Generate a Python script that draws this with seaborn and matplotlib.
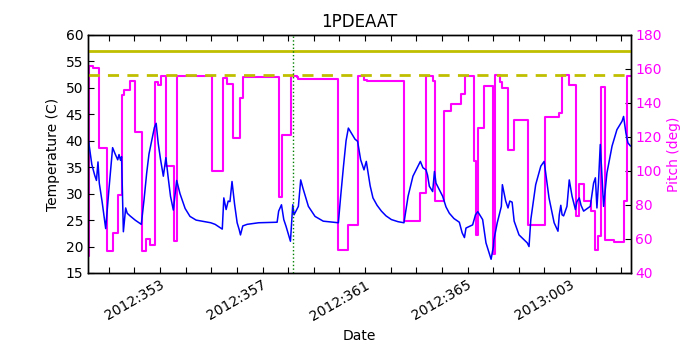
import matplotlib
matplotlib.use("Agg")
import matplotlib.pyplot as plt
from matplotlib.ticker import FixedLocator, MultipleLocator
import numpy as np
import pandas as pd
import seaborn as sns

title = "1PDEAAT"

# Temperature (C) vs day-of-year (2012 numbering; 367 = 2013:001)
temp_day = [351.21, 351.34, 351.45, 351.52, 351.58, 351.63, 351.74, 351.88, 352.01, 352.15,
            352.25, 352.35, 352.40, 352.46, 352.50, 352.57, 352.66, 352.72, 352.83, 353.03,
            353.27, 353.38, 353.48, 353.57, 353.68, 353.78, 353.85, 353.93, 354.02, 354.13,
            354.23, 354.32, 354.41, 354.52, 354.65, 354.78, 354.98, 355.17, 355.41, 355.76,
            355.98, 356.15, 356.34, 356.43, 356.49, 356.58, 356.66, 356.73, 356.81, 356.91,
            357.01, 357.09, 357.14, 357.23, 357.40, 357.85, 358.57, 358.63, 358.74, 358.83,
            358.92, 359.09, 359.18, 359.23, 359.40, 359.49, 359.58, 359.79, 360.05, 360.37,
            360.96, 361.05, 361.16, 361.26, 361.35, 361.46, 361.61, 361.71, 361.83, 361.96,
            362.05, 362.12, 362.20, 362.31, 362.47, 362.64, 362.82, 363.03, 363.29, 363.52,
            363.68, 363.87, 364.07, 364.16, 364.26, 364.38, 364.44, 364.51, 364.64, 364.71,
            364.77, 365.03, 365.16, 365.29, 365.47, 365.68, 365.79, 365.88, 365.94, 366.20,
            366.31, 366.40, 366.59, 366.72, 366.92, 367.01, 367.03, 367.16, 367.32, 367.36,
            367.49, 367.58, 367.65, 367.74, 367.82, 368.01, 368.33, 368.40, 368.47, 368.66,
            368.86, 368.99, 369.18, 369.38, 369.53, 369.58, 369.64, 369.69, 369.75, 369.88,
            369.97, 370.08, 370.21, 370.27, 370.36, 370.43, 370.53, 370.79, 370.92, 370.99,
            371.05, 371.11, 371.18, 371.25, 371.31, 371.44, 371.64, 371.83, 372.03, 372.09,
            372.18, 372.26, 372.36]
temp_c = [40.0, 35.5, 33.5, 32.5, 36.0, 32.0, 28.5, 23.4, 31.0, 38.7,
          37.5, 36.4, 37.4, 36.3, 37.0, 22.8, 27.3, 26.3, 25.8, 25.0,
          24.2, 29.0, 33.9, 37.5, 40.1, 42.5, 43.3, 39.5, 36.5, 33.3,
          36.8, 33.0, 29.5, 26.9, 32.5, 30.0, 27.2, 25.7, 25.0, 24.7,
          24.5, 24.2, 23.6, 23.3, 29.2, 27.0, 28.6, 28.5, 32.3, 28.0,
          24.5, 23.2, 22.2, 23.9, 24.2, 24.5, 24.6, 26.7, 27.9, 25.1,
          23.8, 21.0, 27.9, 26.0, 27.6, 32.6, 31.0, 27.6, 25.7, 24.8,
          24.5, 29.5, 35.2, 40.0, 42.4, 41.5, 40.3, 39.9, 36.4, 34.5,
          36.1, 34.0, 31.5, 29.2, 27.8, 26.7, 25.8, 25.1, 24.7, 24.5,
          29.5, 33.3, 35.2, 36.1, 34.9, 34.5, 33.5, 31.4, 30.4, 34.2,
          32.0, 29.5, 27.5, 26.3, 25.3, 24.6, 22.6, 21.7, 23.5, 24.1,
          26.0, 26.6, 25.1, 20.7, 17.6, 20.0, 21.3, 24.5, 27.6, 31.7,
          28.6, 27.3, 28.6, 28.4, 24.8, 22.2, 20.7, 20.0, 25.1, 31.7,
          35.2, 36.1, 29.2, 24.5, 22.9, 26.0, 27.8, 26.0, 25.8, 27.6,
          32.6, 29.5, 27.0, 28.5, 29.2, 27.8, 26.7, 27.6, 32.0, 33.0,
          27.3, 32.0, 39.3, 33.0, 27.6, 33.9, 39.0, 42.1, 43.7, 44.6,
          41.5, 39.6, 39.0]

# Pitch (deg), step changes
pitch_day = [351.19, 351.23, 351.40, 351.60, 351.92, 352.16, 352.38, 352.52, 352.61, 352.81,
             353.04, 353.30, 353.46, 353.59, 353.82, 353.94, 354.04, 354.22, 354.55, 354.68,
             356.04, 356.46, 356.62, 356.84, 357.14, 357.23, 358.63, 358.76, 359.11, 359.34,
             359.39, 360.96, 361.35, 361.74, 361.96, 362.09, 363.51, 364.14, 364.37, 364.64,
             364.73, 365.10, 365.36, 365.75, 365.92, 366.27, 366.35, 366.41, 366.64, 366.98,
             367.07, 367.27, 367.36, 367.58, 367.82, 368.36, 369.01, 369.57, 369.70, 369.97,
             370.23, 370.36, 370.53, 370.82, 370.99, 371.09, 371.22, 371.35, 371.71, 372.09,
             372.22, 372.36]
pitch_deg = [50.0, 161.8, 160.8, 113.5, 52.8, 63.5, 86.0, 144.9, 147.8, 153.1,
             122.8, 53.1, 59.8, 56.5, 152.5, 150.4, 156.0, 103.2, 58.6, 156.0,
             99.8, 154.7, 151.4, 119.4, 143.0, 155.3, 84.7, 121.0, 155.7, 155.3,
             154.3, 53.7, 68.4, 156.0, 153.7, 153.1, 70.4, 87.0, 156.0, 152.8,
             82.2, 135.5, 139.6, 145.5, 155.7, 105.7, 62.5, 125.3, 149.8, 51.0,
             156.3, 152.2, 148.8, 112.2, 130.2, 68.4, 131.6, 134.1, 156.3, 150.8,
             73.4, 92.4, 82.2, 76.6, 53.7, 61.9, 149.2, 59.2, 58.1, 82.2,
             155.7, 155.7]

limit_solid = 57.0
limit_dashed = 52.5
event_day = 359.20
tick_days = [353, 357, 361, 365, 369]
tick_labels = ["2012:353", "2012:357", "2012:361", "2012:365", "2013:003"]
x_range = (351.19, 372.36)

sns.set_theme(style="white")
plt.rcParams["font.family"] = ["DejaVu Sans"]
plt.rcParams["text.color"] = "black"
plt.rcParams["axes.labelcolor"] = "black"
plt.rcParams["xtick.color"] = "black"
plt.rcParams["ytick.color"] = "black"

temp_df = pd.DataFrame({"day": temp_day, "temp": temp_c})
pitch_df = pd.DataFrame({"day": pitch_day, "pitch": pitch_deg})

fig = plt.figure(figsize=(7, 3.5), dpi=100)
ax = fig.add_axes([88 / 700, 77 / 350, 542.5 / 700, 238 / 350])
ax2 = ax.twinx()

sns.lineplot(data=pitch_df, x="day", y="pitch", ax=ax2, color="#ff00ff",
             linewidth=1.5, drawstyle="steps-post", estimator=None, sort=False)
sns.lineplot(data=temp_df, x="day", y="temp", ax=ax, color="#0000ff",
             linewidth=1.1, estimator=None, sort=False)
ax.axhline(limit_solid, color="#bfbf00", linewidth=2)
ax.axhline(limit_dashed, color="#bfbf00", linewidth=2, linestyle=(0, (4, 3)))
ax.axvline(event_day, color="#008000", linewidth=1, linestyle=":")

ax.set_zorder(ax2.get_zorder() + 1)
ax.patch.set_visible(False)

ax.set_xlim(*x_range)
ax.set_ylim(15, 60)
ax2.set_ylim(40, 180)
ax.xaxis.set_major_locator(FixedLocator(tick_days))
ax.set_xticklabels(tick_labels, rotation=30, ha="center", fontsize=10)
ax.xaxis.set_minor_locator(MultipleLocator(1))
ax.set_yticks(np.arange(15, 61, 5))
ax2.set_yticks(np.arange(40, 181, 20))

ax.tick_params(axis="x", which="both", direction="in", top=True, bottom=True,
               length=4, width=0.8, color="black", labelsize=10, labelcolor="black")
ax.tick_params(axis="y", direction="in", left=True, right=False, length=4,
               width=0.8, color="black", labelsize=10, labelcolor="black")
ax2.tick_params(axis="y", direction="in", right=True, left=False, length=4,
                width=0.8, color="black", labelsize=10, labelcolor="#ff00ff")

ax.set_xlabel("Date", fontsize=10, color="black")
ax.set_ylabel("Temperature (C)", fontsize=10, color="black")
ax2.set_ylabel("Pitch (deg)", fontsize=10, color="#ff00ff")
ax.set_title(title, fontsize=12, color="black")

for a in (ax, ax2):
    for s in a.spines.values():
        s.set_color("black")
        s.set_linewidth(1)

fig.savefig("out.png", dpi=100)
